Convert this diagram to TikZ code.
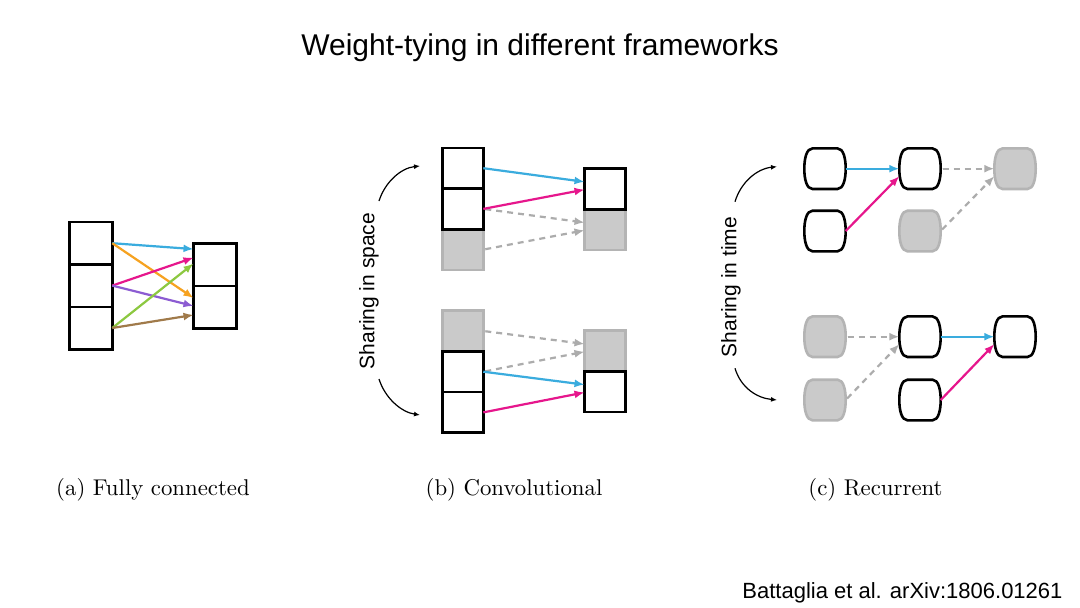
\documentclass[tikz,border=0pt]{standalone}
\usepackage{fontspec}
\setsansfont{Liberation Sans}
\usetikzlibrary{positioning,arrows.meta}

\definecolor{linkblue}{RGB}{58,172,222}
\definecolor{linkpink}{RGB}{230,22,140}
\definecolor{linkorange}{RGB}{246,162,32}
\definecolor{linkpurple}{RGB}{140,92,210}
\definecolor{linkgreen}{RGB}{140,200,64}
\definecolor{linkbrown}{RGB}{160,122,74}
\definecolor{ghostfill}{RGB}{202,202,202}
\definecolor{ghostline}{RGB}{180,180,180}
\definecolor{ghostgrey}{RGB}{172,172,172}

\tikzset{
  cell/.style={draw, line width=2.6pt, minimum width=43pt, minimum height=42.4pt,
    inner sep=0pt, outer sep=0pt},
  ghost/.style={cell, draw=ghostline, fill=ghostfill},
  barrel/.style={append after command={\pgfextra{\pgfinterruptpath
    \draw[line width=2.6pt, #1, shift={(\tikzlastnode.center)}]
      (-12.5,-20.3) -- (12.5,-20.3) .. controls (18.5,-20.3) and (20.7,-10) .. (20.7,0)
      .. controls (20.7,10) and (18.5,20.3) .. (12.5,20.3) -- (-12.5,20.3)
      .. controls (-18.5,20.3) and (-20.7,10) .. (-20.7,0)
      .. controls (-20.7,-10) and (-18.5,-20.3) .. cycle;
    \endpgfinterruptpath}}},
  unitbox/.style={minimum width=41.4pt, minimum height=40.6pt, inner sep=0pt, outer sep=0pt},
  unit/.style={unitbox, barrel={draw=black, fill=white}},
  ghostunit/.style={unitbox, barrel={draw=ghostline, fill=ghostfill}},
  link/.style={line width=2.2pt, -{Latex[length=10pt,width=8pt]}},
  ghostlink/.style={link, ghostgrey, dash pattern=on 6pt off 5pt, shorten <=2pt},
  share/.style={line width=1.2pt, -{Latex[length=6pt,width=5pt]}},
  sidelabel/.style={font=\sffamily\fontsize{21}{25}\selectfont, rotate=90},
  caption/.style={font=\rmfamily, scale=2.28, anchor=base}
}

\begin{document}
\begin{tikzpicture}[x=1pt,y=-1pt]
        \useasboundingbox[fill=white] (0,0) rectangle (1080,608);

        \node[font=\sffamily\fontsize{30}{36}\selectfont, anchor=base] (title) at (540, 55) {Weight-tying in different frameworks};

        % (a) fully connected
        \node[cell] (a1) at (90.8, 243.2) {};
        \node[cell, below=0pt of a1] (a2) {};
        \node[cell, below=0pt of a2] (a3) {};
        \node[cell] (b1) at (215, 264.7) {};
        \node[cell, below=0pt of b1] (b2) {};

        \draw[link, linkblue] (a1.east) -- (b1.144);
        \draw[link, linkorange] (a1.east) -- (b2.157);
        \draw[link, linkpink] (a2.east) -- (b1.162);
        \draw[link, linkpurple] (a2.east) -- (b2.177);
        \draw[link, linkgreen] (a3.east) -- (b1.177);
        \draw[link, linkbrown] (a3.east) -- (b2.200);

        % (b) convolutional
        \begin{scope}[cell/.append style={minimum width=41pt, minimum height=40.7pt}]
        \node[ghost] (c3) at (462.8, 249.6) {};
        \node[cell, above=0pt of c3] (c2) {};
        \node[cell, above=0pt of c2] (c1) {};
        \node[ghost] (d2) at (605, 229.6) {};
        \node[cell, above=0pt of d2] (d1) {};

        \node[ghost] (e1) at (462.8, 331) {};
        \node[cell, below=0pt of e1] (e2) {};
        \node[cell, below=0pt of e2] (e3) {};
        \node[ghost] (f1) at (605, 351) {};
        \node[cell, below=0pt of f1] (f2) {};
        \end{scope}

        \draw[ghostlink] (c2.east) -- (d2.161);
        \draw[ghostlink] (c3.east) -- (d2.182);
        \draw[link, linkblue] (c1.east) -- (d1.161);
        \draw[link, linkpink] (c2.east) -- (d1.182);

        \draw[ghostlink] (e1.east) -- (f1.161);
        \draw[ghostlink] (e2.east) -- (f1.182);
        \draw[link, linkblue] (e2.east) -- (f2.161);
        \draw[link, linkpink] (e3.east) -- (f2.182);

        \coordinate (sp1) at (379, 201);
        \coordinate (sp2) at (420, 166);
        \coordinate (sp3) at (379, 379);
        \coordinate (sp4) at (420, 415);
        \draw[share] (sp1) .. controls (385, 182) and (401, 168) .. (sp2);
        \draw[share] (sp3) .. controls (385, 398) and (401, 412) .. (sp4);
        \node[sidelabel] (space) at (369, 291) {Sharing in space};

        % (c) recurrent
        \node[unit] (g1) at (825, 168.7) {};
        \node[unit] (g2) at (920, 168.7) {};
        \node[ghostunit] (g3) at (1015, 168.7) {};
        \node[unit] (h1) at (825, 231) {};
        \node[ghostunit] (h2) at (920, 231) {};

        \node[ghostunit] (i1) at (825, 336.7) {};
        \node[unit] (i2) at (920, 336.7) {};
        \node[unit] (i3) at (1015, 336.7) {};
        \node[ghostunit] (j1) at (825, 400) {};
        \node[unit] (j2) at (920, 400) {};

        \draw[link, linkblue] (g1.east) -- (g2.west);
        \draw[link, linkpink] (h1.east) -- (g2.200);
        \draw[ghostlink] (g2.east) -- (g3.west);
        \draw[ghostlink] (h2.east) -- (g3.200);

        \draw[ghostlink] (i1.east) -- (i2.west);
        \draw[ghostlink] (j1.east) -- (i2.200);
        \draw[link, linkblue] (i2.east) -- (i3.west);
        \draw[link, linkpink] (j2.east) -- (i3.200);

        \coordinate (tm1) at (735, 201.7);
        \coordinate (tm2) at (777, 166.7);
        \coordinate (tm3) at (735, 368.3);
        \coordinate (tm4) at (777, 400);
        \draw[share] (tm1) .. controls (741, 182) and (757, 168.7) .. (tm2);
        \draw[share] (tm3) .. controls (741, 388) and (757, 398) .. (tm4);
        \node[sidelabel] (time) at (731, 287) {Sharing in time};

        % captions
        \node[caption] (capa) at (153, 495) {(a) Fully connected};
        \node[caption] (capb) at (514, 495) {(b) Convolutional};
        \node[caption] (capc) at (875.5, 495) {(c) Recurrent};

        \node[font=\sffamily\fontsize{22}{26}\selectfont, anchor=base east] (cite) at (1066, 598) {Battaglia et al. arXiv:1806.01261};

    \end{tikzpicture}
\end{document}
